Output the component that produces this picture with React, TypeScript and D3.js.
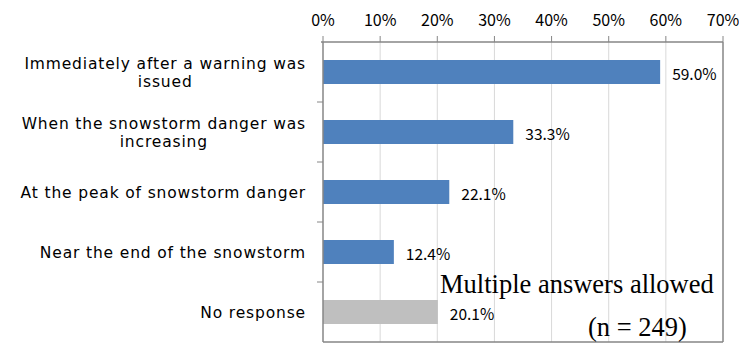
import React from "react";
import * as d3 from "d3";

const categories: string[][] = [
  ["Immediately after a warning was", "issued"],
  ["When the snowstorm danger was", "increasing"],
  ["At the peak of snowstorm danger"],
  ["Near the end of the snowstorm"],
  ["No response"],
];
const values: number[] = [59.0, 33.3, 22.1, 12.4, 20.1];
const barColors: string[] = ["#4f81bd", "#4f81bd", "#4f81bd", "#4f81bd", "#bfbfbf"];
const xTicks: number[] = [0, 10, 20, 30, 40, 50, 60, 70];
const noteLines: string[] = ["Multiple answers allowed", "(n = 249)"];

const W = 739;
const H = 343;
const labelFamily = "'DejaVu Sans', sans-serif";
const labelSize = 15.5;
const labelSpacing = 0.85;
const labelFont = `${labelSize}px 'DejaVu Sans', sans-serif`;

function measure(text: string, font: string, spacing: number): number {
  const c = document.createElement("canvas");
  const ctx = c.getContext("2d")!;
  ctx.font = font;
  return ctx.measureText(text).width + spacing * text.length;
}

export default function App() {
  const margin = { left: 323, right: 16, top: 42, bottom: 1 };
  const x = d3.scaleLinear().domain([0, 70]).range([margin.left, W - margin.right]);
  const y = d3
    .scaleBand<number>()
    .domain(d3.range(categories.length))
    .range([margin.top, H - margin.bottom])
    .paddingInner(0.6)
    .paddingOuter(0.3);
  const step = y.step();
  const bandTop = (i: number) => margin.top + i * step;
  const axisColor = "#868686";
  const labelRight = 306;

  return (
    <svg width={W} height={H} style={{ position: "absolute", left: 0, top: 0, background: "#fff" }}>
      {xTicks.slice(1, -1).map((t) => (
        <line key={"g" + t} x1={x(t)} x2={x(t)} y1={margin.top} y2={H - margin.bottom} stroke="#d9d9d9" strokeWidth={1} />
      ))}
      {values.map((v, i) => (
        <rect key={"b" + i} x={x(0)} y={y(i)!} width={x(v) - x(0)} height={y.bandwidth()} fill={barColors[i]} />
      ))}
      <line x1={x(70)} x2={x(70)} y1={margin.top} y2={H - margin.bottom} stroke={axisColor} strokeWidth={1.5} />
      <line x1={x(0)} x2={x(70)} y1={H - margin.bottom} y2={H - margin.bottom} stroke={axisColor} strokeWidth={1.5} />
      <line x1={x(0) - 2} x2={x(70)} y1={margin.top} y2={margin.top} stroke={axisColor} strokeWidth={1.5} />
      {xTicks.map((t) => (
        <g key={"t" + t}>
          <line x1={x(t)} x2={x(t)} y1={margin.top - 6} y2={margin.top} stroke={axisColor} strokeWidth={1} />
          <text x={x(t)} y={26} textAnchor="middle" fontFamily="'Noto Sans CJK JP', sans-serif" fontSize={16} fill="#000">
            {t + "%"}
          </text>
        </g>
      ))}
      <line x1={x(0)} x2={x(0)} y1={margin.top} y2={H - margin.bottom} stroke={axisColor} strokeWidth={1.5} />
      {categories.map((_, i) =>
        i > 0 ? (
          <line key={"ct" + i} x1={x(0) - 6} x2={x(0)} y1={bandTop(i)} y2={bandTop(i)} stroke={axisColor} strokeWidth={1} />
        ) : null
      )}
      {categories.map((lines, i) => {
        const widths = lines.map((l) => measure(l, labelFont, labelSpacing));
        const maxW = Math.max(...widths);
        const cy = y(i)! + y.bandwidth() / 2 + 6;
        const lh = 17.5;
        const startY = cy - ((lines.length - 1) * lh) / 2;
        return (
          <g key={"c" + i}>
            {lines.map((l, j) => (
              <text
                key={j}
                x={labelRight - maxW / 2 - widths[j] / 2}
                y={startY + j * lh}
                fontFamily={labelFamily}
                fontSize={labelSize}
                letterSpacing={labelSpacing}
                fill="#000"
              >
                {l}
              </text>
            ))}
          </g>
        );
      })}
      {values.map((v, i) => (
        <text
          key={"v" + i}
          x={x(v) + 12}
          y={y(i)! + y.bandwidth() / 2 + 8}
          fontFamily="'Noto Sans CJK JP', sans-serif"
          fontSize={15.5}
          fill="#000"
        >
          {v.toFixed(1) + "%"}
        </text>
      ))}
      <text x={440} y={293} fontFamily="'Liberation Serif', 'Times New Roman', serif" fontSize={26.5} fill="#000">
        {noteLines[0]}
      </text>
      <text x={588} y={336} fontFamily="'Liberation Serif', 'Times New Roman', serif" fontSize={26.5} fill="#000">
        {noteLines[1]}
      </text>
    </svg>
  );
}
